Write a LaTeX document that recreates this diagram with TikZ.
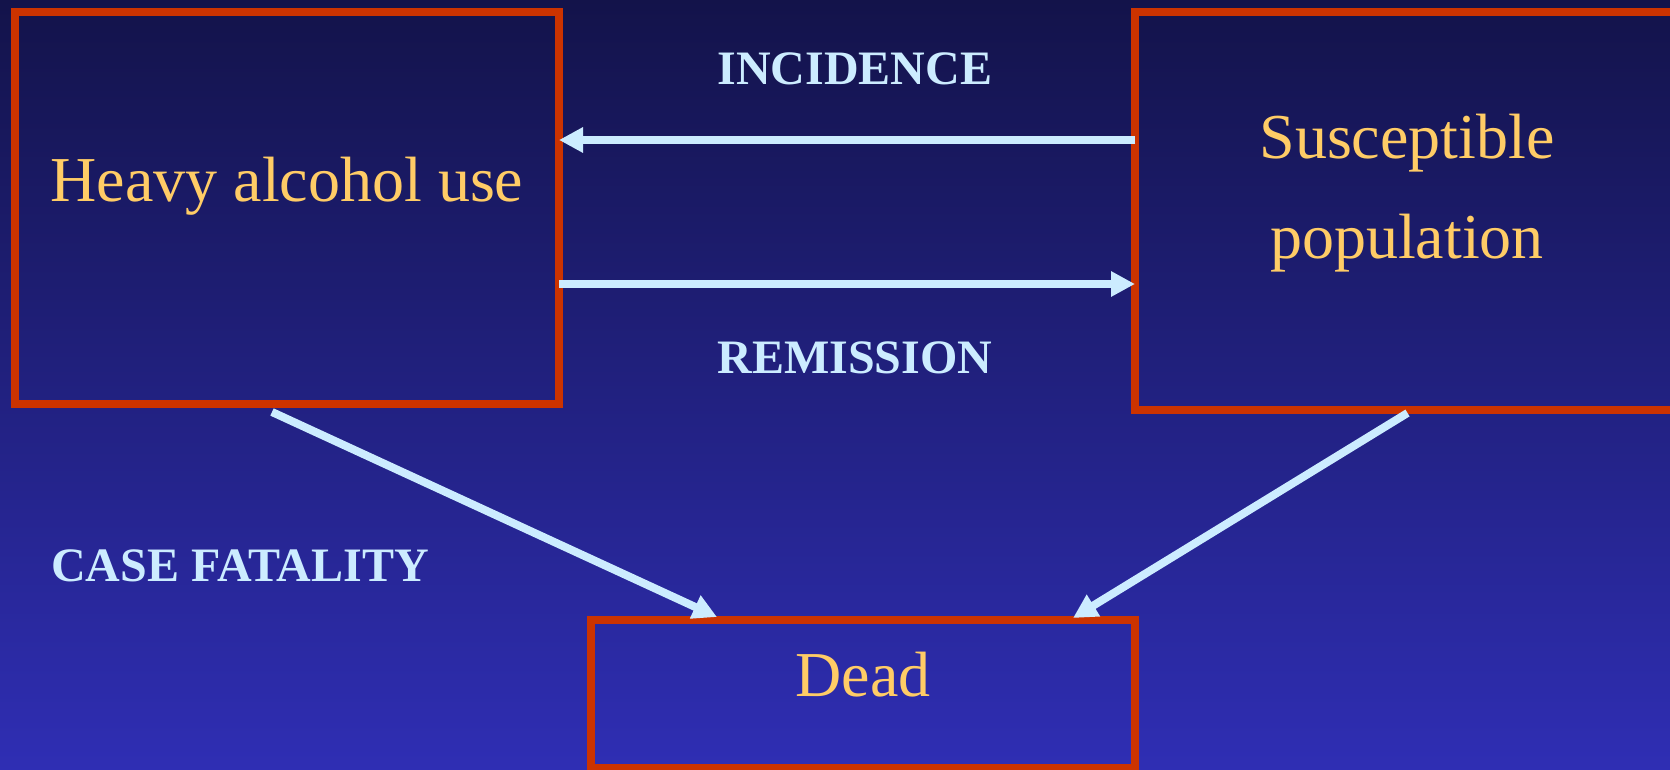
\documentclass[tikz,border=0pt]{standalone}
\usepackage{fontspec}
\setmainfont{Liberation Serif}
\usetikzlibrary{arrows.meta,calc}
\definecolor{bgtop}{RGB}{19,19,74}
\definecolor{bgbot}{RGB}{47,46,180}
\definecolor{boxred}{RGB}{204,51,0}
\definecolor{txtyellow}{RGB}{255,204,102}
\definecolor{lblue}{RGB}{204,236,255}
\begin{document}
\begin{tikzpicture}[x=1pt,y=-1pt,
  stagebox/.style={draw=boxred,line width=7.5pt,inner sep=0pt,outer sep=0pt},
  stagetext/.style={text=txtyellow,font=\fontsize{64}{100}\selectfont,align=center,inner sep=0pt},
  flow/.style={draw=lblue,line width=8pt,-{Triangle[length=24pt,width=24pt]}},
  lbl/.style={text=lblue,font=\fontsize{48}{56}\selectfont\bfseries,inner sep=0pt}]
\shade[top color=bgtop,bottom color=bgbot] (0,0) rectangle (1670,770);
\useasboundingbox (0,0) rectangle (1670,770);
% boxes
\node[stagebox,minimum width=544pt,minimum height=392pt] (heavy) at (287,208) {};
\node[stagebox,minimum width=545pt,minimum height=398pt] (susc) at (1407.5,211) {};
\node[stagebox,minimum width=544pt,minimum height=148pt] (dead) at (863,694) {};
% box texts
\node[stagetext,anchor=base] (heavyt) at (287,202) {Heavy alcohol use};
\node[stagetext] (susct) at (1407,193) {Susceptible\\population};
\node[stagetext,anchor=base] (deadt) at (863,696) {Dead};
% labels
\node[lbl,anchor=base] (inc) at (855,85) {INCIDENCE};
\node[lbl,anchor=base] (rem) at (855,373) {REMISSION};
\node[lbl,anchor=base] (cf) at (240,581) {CASE FATALITY};
% connectors
\draw[flow] (susc.west |- 0,140) -- (heavy.east |- 0,140);
\draw[flow] (heavy.east |- 0,284) -- (susc.west |- 0,284);
\draw[flow] ($(heavy.south)+(-15,8)$) -- ($(dead.north)+(-146,-3)$);
\draw[flow] ($(susc.south)+(0,3)$) -- ($(dead.north)+(210,-2)$);
\end{tikzpicture}
\end{document}
